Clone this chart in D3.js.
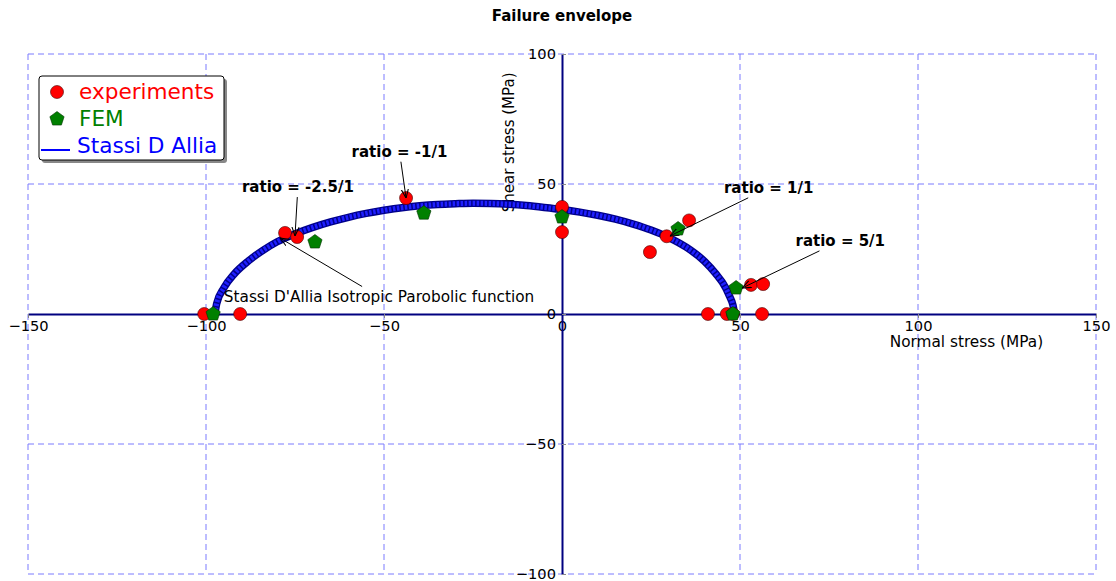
<!DOCTYPE html>
<html>
<head>
<meta charset="utf-8">
<script src="https://cdn.jsdelivr.net/npm/d3@7"></script>
<style>
  body { margin: 0; background: #fff; }
  text { font-family: "DejaVu Sans", sans-serif; }
</style>
</head>
<body>
<div id="chart"></div>
<script>
// Data
const expX = [-100.5, -90.4, -77.8, -74.4, -43.8, 0, 0, 24.7, 29.4, 35.7, 41.0, 46.3, 48.0, 56.2, 53.1, 56.5];
const expY = [0, 0, 31.2, 29.6, 44.6, 41.2, 31.5, 23.8, 29.9, 36.0, 0, 0, 0, 0, 11.2, 11.5];

const femX = [-98.0, -69.4, -38.8, 0, 32.6, 48.9, 48.0];
const femY = [0, 27.7, 38.8, 37.3, 32.7, 10.0, 0];

// Stassi D'Allia envelope
const stassiX = [-97.5, -97, -95, -92, -88, -84, -80, -75, -70, -65, -60, -55, -50, -45, -40, -35, -30, -25, -20, -15, -10, -5, 0, 5, 10, 15, 20, 25, 30, 35, 40, 43, 46, 47, 48, 48.5];
const stassiY = [0, 4, 10, 15.5, 20.5, 24.5, 27.8, 30.8, 33.3, 35.4, 37.2, 38.7, 39.9, 40.9, 41.6, 42.1, 42.4, 42.6, 42.5, 42.2, 41.7, 41.0, 40.2, 39.2, 38.0, 36.5, 34.6, 32.3, 29.4, 25.6, 20.3, 15.8, 10.0, 7.0, 3.5, 0];

const xTicks = [-150, -100, -50, 0, 50, 100, 150];
const yTicks = [-100, -50, 0, 50, 100];

const annTexts = ["ratio = -1/1", "ratio = -2.5/1", "ratio = 1/1", "ratio = 5/1", "Stassi D'Allia Isotropic Parobolic function"];
const annBold = [true, true, true, true, false];
const annTargetX = [-43.8, -75.0, 30.3, 50.6, -79.2];
const annTargetY = [44.6, 30.0, 30.0, 10.0, 29.2];
const annTextX = [-59.1, -89.9, 45.5, 65.6, -95.0];
const annTextY = [60.5, 46.9, 46.6, 26.2, 4.8];

const legendLabels = ["experiments", "FEM", "Stassi D Allia"];
const legendColors = ["red", "green", "blue"];

// Layout
const width = 1116;
const height = 581;
const margin = { top: 54, right: 20, bottom: 7, left: 28 };

const svg = d3.select("#chart")
    .append("svg")
    .attr("width", width)
    .attr("height", height);

const x = d3.scaleLinear()
    .domain([-150, 150])
    .range([margin.left, width - margin.right]);

const y = d3.scaleLinear()
    .domain([-100, 100])
    .range([height - margin.bottom, margin.top]);

const minus = d => d < 0 ? "\u2212" + Math.abs(d) : String(d);

// Title
svg.append("text")
    .attr("x", x(0))
    .attr("y", 21)
    .attr("text-anchor", "middle")
    .attr("font-size", 15)
    .attr("font-weight", "bold")
    .text("Failure envelope");

// Grid
const grid = svg.append("g")
    .attr("stroke", "#7b7bff")
    .attr("stroke-width", 1)
    .attr("stroke-dasharray", "6,4");

grid.selectAll("line.gx")
    .data(xTicks.filter(d => d !== 0))
    .join("line")
    .attr("x1", d => x(d)).attr("x2", d => x(d))
    .attr("y1", y(100)).attr("y2", y(-100));

grid.selectAll("line.gy")
    .data(yTicks.filter(d => d !== 0))
    .join("line")
    .attr("x1", x(-150)).attr("x2", x(150))
    .attr("y1", d => y(d)).attr("y2", d => y(d));

// Axes through the origin
const xAxis = svg.append("g")
    .attr("transform", `translate(0,${y(0)})`)
    .call(d3.axisBottom(x).tickValues(xTicks).tickSizeInner(4).tickSizeOuter(0).tickPadding(3).tickFormat(minus));

const yAxis = svg.append("g")
    .attr("transform", `translate(${x(0)},0)`)
    .call(d3.axisLeft(y).tickValues(yTicks).tickSizeInner(-4).tickSizeOuter(0).tickPadding(6).tickFormat(minus));

[xAxis, yAxis].forEach(g => {
    g.select(".domain").attr("stroke", "#000080").attr("stroke-width", 2);
    g.selectAll(".tick line").attr("stroke", "#888");
    g.selectAll(".tick text")
        .attr("font-family", "DejaVu Sans, sans-serif")
        .attr("font-size", 14.67)
        .attr("fill", "#000");
});

// Axis labels
svg.append("text")
    .attr("x", x(113.6))
    .attr("y", y(0) + 33)
    .attr("text-anchor", "middle")
    .attr("font-size", 15.3)
    .text("Normal stress (MPa)");

svg.append("text")
    .attr("transform", `translate(${x(0) - 48},${y(66)}) rotate(-90)`)
    .attr("text-anchor", "middle")
    .attr("font-size", 15)
    .text("Shear stress (MPa)");

// Stassi curve: dense blue markers
const stassi = stassiX.map((v, i) => [v, stassiY[i]]);
const line = d3.line()
    .x(d => x(d[0]))
    .y(d => y(d[1]))
    .curve(d3.curveMonotoneX);

svg.append("path")
    .datum(stassi)
    .attr("fill", "none")
    .attr("stroke", "#00008b")
    .attr("stroke-width", 7.5)
    .attr("stroke-linecap", "round")
    .attr("d", line);

svg.append("path")
    .datum(stassi)
    .attr("fill", "none")
    .attr("stroke", "#1f1fff")
    .attr("stroke-width", 5)
    .attr("stroke-dasharray", "2.5,1.5")
    .attr("d", line);

// Pentagon shape
function pentagon(r) {
    const pts = d3.range(5).map(k => {
        const a = -Math.PI / 2 + k * 2 * Math.PI / 5;
        return [r * Math.cos(a), r * Math.sin(a)];
    });
    return "M" + pts.map(p => p.join(",")).join("L") + "Z";
}

// Experiments
svg.append("g")
    .selectAll("circle")
    .data(expX.map((v, i) => [v, expY[i]]))
    .join("circle")
    .attr("cx", d => x(d[0]))
    .attr("cy", d => y(d[1]))
    .attr("r", 6.5)
    .attr("fill", "red")
    .attr("stroke", "#400")
    .attr("stroke-width", 0.6);

// FEM
svg.append("g")
    .selectAll("path")
    .data(femX.map((v, i) => [v, femY[i]]))
    .join("path")
    .attr("transform", d => `translate(${x(d[0])},${y(d[1])})`)
    .attr("d", pentagon(7.5))
    .attr("fill", "green")
    .attr("stroke", "#030")
    .attr("stroke-width", 0.6);

// Annotations
svg.append("defs").append("marker")
    .attr("id", "arrow")
    .attr("viewBox", "0 0 10 10")
    .attr("refX", 10).attr("refY", 5)
    .attr("markerWidth", 9).attr("markerHeight", 9)
    .attr("markerUnits", "userSpaceOnUse")
    .attr("orient", "auto")
    .append("path")
    .attr("d", "M0,1L10,5L0,9")
    .attr("fill", "none")
    .attr("stroke", "#000")
    .attr("stroke-width", 1.2);

annTexts.forEach((t, i) => {
    const txt = svg.append("text")
        .attr("x", x(annTextX[i]))
        .attr("y", y(annTextY[i]))
        .attr("font-size", annBold[i] ? 15 : 15.3)
        .attr("font-weight", annBold[i] ? "bold" : "normal")
        .text(t);
    const b = txt.node().getBBox();
    const cx = b.x + b.width / 2, cy = b.y + b.height / 2;
    const tx = x(annTargetX[i]), ty = y(annTargetY[i]);
    const dx = tx - cx, dy = ty - cy;
    const s = Math.min(
        dx !== 0 ? (b.width / 2 + 2) / Math.abs(dx) : Infinity,
        dy !== 0 ? (b.height / 2 + 1) / Math.abs(dy) : Infinity
    );
    svg.append("line")
        .attr("x1", cx + dx * s).attr("y1", cy + dy * s)
        .attr("x2", tx).attr("y2", ty)
        .attr("stroke", "#000")
        .attr("stroke-width", 1)
        .attr("marker-end", "url(#arrow)");
});

// Legend
const lg = svg.append("g").attr("transform", "translate(39,76)");
lg.append("rect")
    .attr("x", 3).attr("y", 3)
    .attr("width", 185).attr("height", 84)
    .attr("rx", 3)
    .attr("fill", "#888");
lg.append("rect")
    .attr("width", 185).attr("height", 84)
    .attr("rx", 3)
    .attr("fill", "#fff")
    .attr("stroke", "#000")
    .attr("stroke-width", 1);

legendLabels.forEach((lab, i) => {
    const cy = 16 + i * 27;
    if (i === 0) {
        lg.append("circle").attr("cx", 18).attr("cy", cy).attr("r", 6.5)
            .attr("fill", "red").attr("stroke", "#400").attr("stroke-width", 0.6);
    } else if (i === 1) {
        lg.append("path").attr("transform", `translate(18,${cy})`).attr("d", pentagon(7.5))
            .attr("fill", "green").attr("stroke", "#030").attr("stroke-width", 0.6);
    } else {
        lg.append("line").attr("x1", 2).attr("x2", 31).attr("y1", cy + 4).attr("y2", cy + 4)
            .attr("stroke", "blue").attr("stroke-width", 2);
    }
    lg.append("text")
        .attr("x", i === 2 ? 38 : 40)
        .attr("y", cy + 7)
        .attr("font-size", 21.6)
        .attr("fill", legendColors[i])
        .text(lab);
});
</script>
</body>
</html>
